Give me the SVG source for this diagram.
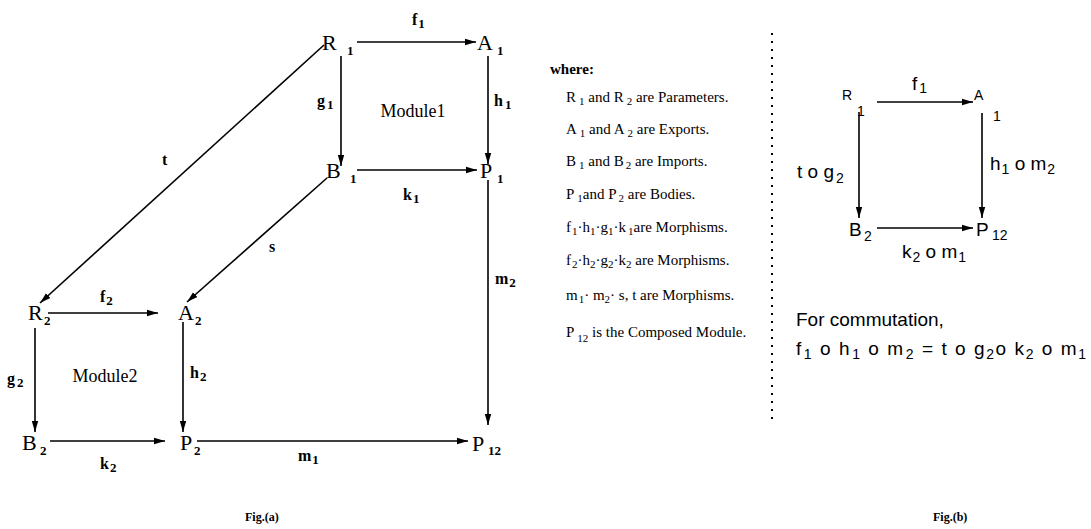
<svg xmlns="http://www.w3.org/2000/svg" width="1091" height="529" viewBox="0 0 1091 529">
<defs>
<marker id="ah" markerUnits="userSpaceOnUse" markerWidth="12" markerHeight="8" refX="11" refY="4" orient="auto">
<path d="M0,0.8 L11,4 L0,7.2 z" fill="#000"/>
</marker>
<style>
.ln{stroke:#000;stroke-width:1.6;fill:none;marker-end:url(#ah)}
.nd{font-family:"Liberation Serif",serif;font-size:22px;fill:#000}
.sb{font-family:"Liberation Serif",serif;font-size:13px;fill:#000;font-weight:bold}
.lb{font-family:"Liberation Serif",serif;font-size:16px;fill:#000;font-weight:bold}
.md{font-family:"Liberation Serif",serif;font-size:18px;fill:#000}
.lg{font-family:"Liberation Serif",serif;font-size:15px;fill:#000}
.ls{font-family:"Liberation Serif",serif;font-size:11px;fill:#000}
.bn{font-family:"Liberation Sans",sans-serif;font-size:19px;fill:#000}
.bs{font-family:"Liberation Sans",sans-serif;font-size:14px;fill:#000}
.cap{font-family:"Liberation Serif",serif;font-size:12px;font-weight:bold;fill:#000}
.dot{stroke:#000;stroke-width:2;stroke-dasharray:2 6;fill:none}
</style>
</defs>
<rect width="1091" height="529" fill="#fff"/>

<g id="connectors">
<line class="ln" x1="357" y1="42" x2="476" y2="42"/>
<line class="ln" x1="341" y1="56" x2="341" y2="166"/>
<line class="ln" x1="488" y1="56" x2="488" y2="164"/>
<line class="ln" x1="357" y1="170" x2="477" y2="170"/>
<line class="ln" x1="488" y1="180" x2="488" y2="425"/>
<line class="ln" x1="324" y1="45" x2="40" y2="303"/>
<line class="ln" x1="327" y1="178" x2="187" y2="302"/>
<line class="ln" x1="48" y1="313" x2="158" y2="313"/>
<line class="ln" x1="35" y1="328" x2="35" y2="432"/>
<line class="ln" x1="183" y1="322" x2="183" y2="432"/>
<line class="ln" x1="50" y1="441" x2="165" y2="441"/>
<line class="ln" x1="197" y1="441" x2="468" y2="441"/>
<line class="ln" x1="877" y1="102" x2="973" y2="102"/>
<line class="ln" x1="859" y1="112" x2="859" y2="218"/>
<line class="ln" x1="982" y1="113" x2="982" y2="218"/>
<line class="ln" x1="877" y1="228" x2="973" y2="228"/>
</g>

<g id="edge-labels">
<text class="lb" x="412" y="25">f<tspan class="sb" dx="1" dy="3">1</tspan></text>
<text class="lb" x="317" y="106">g<tspan class="sb" dx="2" dy="3">1</tspan></text>
<text class="lb" x="494" y="106">h<tspan class="sb" dx="2" dy="3">1</tspan></text>
<text class="lb" x="403" y="200">k<tspan class="sb" dx="1" dy="3">1</tspan></text>
<text class="lb" x="495" y="284">m<tspan class="sb" dx="1" dy="3">2</tspan></text>
<text class="lb" x="162" y="165">t</text>
<text class="lb" x="269" y="252">s</text>
<text class="lb" x="100" y="302">f<tspan class="sb" dx="1" dy="3">2</tspan></text>
<text class="lb" x="7" y="384">g<tspan class="sb" dx="2" dy="3">2</tspan></text>
<text class="lb" x="190" y="378">h<tspan class="sb" dx="1" dy="3">2</tspan></text>
<text class="lb" x="100" y="469">k<tspan class="sb" dx="1" dy="3">2</tspan></text>
<text class="lb" x="298" y="461">m<tspan class="sb" dx="1" dy="3">1</tspan></text>
<text class="bn" x="912" y="90">f<tspan class="bs" dx="2" dy="3">1</tspan></text>
<text class="bn" x="797" y="178">t o g<tspan class="bs" dx="2" dy="5">2</tspan></text>
<text class="bn" x="990" y="170">h<tspan class="bs" dx="1" dy="4">1</tspan><tspan dy="-4"> o m</tspan><tspan class="bs" dx="1" dy="4">2</tspan></text>
<text class="bn" x="902" y="258">k<tspan class="bs" dx="1" dy="4">2</tspan><tspan dy="-4"> o m</tspan><tspan class="bs" dx="1" dy="4">1</tspan></text>
</g>

<g id="R1"><text class="nd" x="322" y="50">R</text><text class="sb" x="347" y="55">1</text></g>
<g id="A1"><text class="nd" x="477" y="50">A</text><text class="sb" x="497" y="55">1</text></g>
<g id="B1"><text class="nd" x="326" y="178">B</text><text class="sb" x="350" y="183">1</text></g>
<g id="P1"><text class="nd" x="480" y="178">P</text><text class="sb" x="497" y="183">1</text></g>
<g id="module1"><text class="md" x="413" y="117" text-anchor="middle">Module1</text></g>
<g id="R2"><text class="nd" x="28" y="320">R</text><text class="sb" x="44" y="325">2</text></g>
<g id="A2"><text class="nd" x="178" y="320">A</text><text class="sb" x="195" y="325">2</text></g>
<g id="B2"><text class="nd" x="22" y="450">B</text><text class="sb" x="40" y="455">2</text></g>
<g id="P2"><text class="nd" x="180" y="450">P</text><text class="sb" x="194" y="455">2</text></g>
<g id="module2"><text class="md" x="105" y="382" text-anchor="middle">Module2</text></g>
<g id="P12"><text class="nd" x="472" y="451">P</text><text class="sb" x="488" y="455">12</text></g>
<g id="caption-a"><text class="cap" x="245" y="521">Fig.(a)</text></g>

<g id="legend">
<text class="lg" x="550" y="74" font-size="14" font-weight="bold">where:</text>
<text class="lg" x="566" y="102">R<tspan class="ls" dx="3" dy="3">1</tspan><tspan dy="-3"> and  R</tspan><tspan class="ls" dx="3" dy="3">2</tspan><tspan dy="-3">  are  Parameters.</tspan></text>
<text class="lg" x="566" y="134">A<tspan class="ls" dx="3" dy="3">1</tspan><tspan dy="-3"> and  A</tspan><tspan class="ls" dx="3" dy="3">2</tspan><tspan dy="-3"> are Exports.</tspan></text>
<text class="lg" x="566" y="166">B<tspan class="ls" dx="3" dy="3">1</tspan><tspan dy="-3">  and  B</tspan><tspan class="ls" dx="2" dy="3">2</tspan><tspan dy="-3"> are  Imports.</tspan></text>
<text class="lg" x="566" y="199">P<tspan class="ls" dx="3" dy="3">1</tspan><tspan dy="-3">and  P</tspan><tspan class="ls" dx="2" dy="3">2</tspan><tspan dy="-3">  are  Bodies.</tspan></text>
<text class="lg" x="566" y="232">f<tspan class="ls" dx="1" dy="3">1</tspan><tspan dy="-3">·h</tspan><tspan class="ls" dy="3">1</tspan><tspan dy="-3">·g</tspan><tspan class="ls" dy="3">1</tspan><tspan dy="-3">·k</tspan><tspan class="ls" dx="2" dy="3">1</tspan><tspan dy="-3">are  Morphisms.</tspan></text>
<text class="lg" x="566" y="265">f<tspan class="ls" dx="1" dy="3">2</tspan><tspan dy="-3">·h</tspan><tspan class="ls" dy="3">2</tspan><tspan dy="-3">·g</tspan><tspan class="ls" dy="3">2</tspan><tspan dy="-3">·k</tspan><tspan class="ls" dy="3">2</tspan><tspan dy="-3"> are  Morphisms.</tspan></text>
<text class="lg" x="566" y="300">m<tspan class="ls" dx="1" dy="3">1</tspan><tspan dy="-3">· m</tspan><tspan class="ls" dy="3">2</tspan><tspan dy="-3">· s, t   are  Morphisms.</tspan></text>
<text class="lg" x="566" y="337">P<tspan class="ls" dx="3" dy="5" font-size="13">12</tspan><tspan dy="-5">  is the Composed Module.</tspan></text>
</g>

<g id="divider"><line class="dot" x1="772" y1="33" x2="772" y2="422"/></g>

<g id="bR1"><text class="bs" x="842" y="100" font-size="12">R</text><text class="bs" x="857" y="116" font-size="15">1</text></g>
<g id="bA1"><text class="bs" x="974" y="100" font-size="12">A</text><text class="bs" x="993" y="121" font-size="15">1</text></g>
<g id="bB2"><text class="bn" x="849" y="236" font-size="20">B</text><text class="bs" x="864" y="241">2</text></g>
<g id="bP12"><text class="bn" x="976" y="236" font-size="20">P</text><text class="bs" x="992" y="240">12</text></g>

<g id="commutation">
<text class="bn" x="796" y="326" font-size="19.5">For commutation,</text>
<text class="bn" x="796" y="355" textLength="290" lengthAdjust="spacing">f<tspan class="bs" dx="1" dy="4">1</tspan><tspan dy="-4"> o h</tspan><tspan class="bs" dx="1" dy="4">1</tspan><tspan dy="-4"> o m</tspan><tspan class="bs" dx="1" dy="4">2</tspan><tspan dy="-4"> = t  o g</tspan><tspan class="bs" dy="4">2</tspan><tspan dy="-4">o k</tspan><tspan class="bs" dy="4">2</tspan><tspan dy="-4"> o m</tspan><tspan class="bs" dy="4">1</tspan></text>
</g>
<g id="caption-b"><text class="cap" x="933" y="521">Fig.(b)</text></g>
</svg>
